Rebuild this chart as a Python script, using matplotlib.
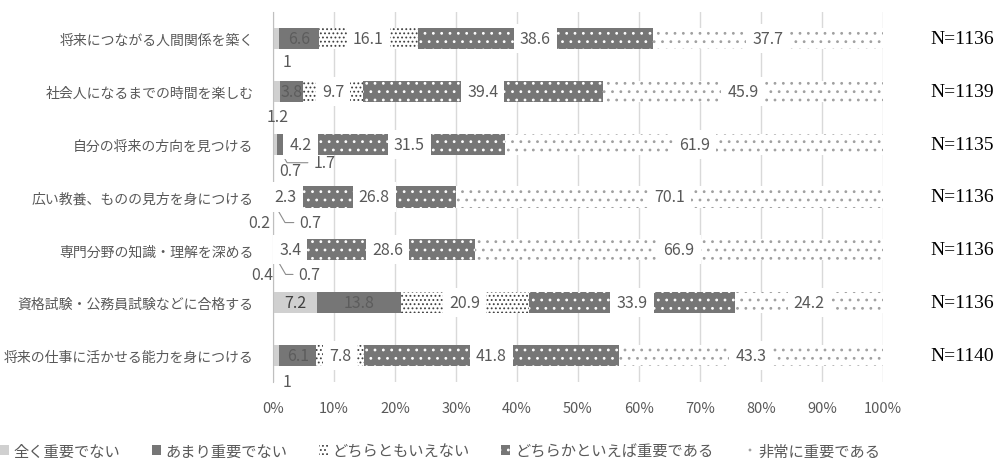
import matplotlib
matplotlib.use("Agg")
import matplotlib.pyplot as plt
from matplotlib.patches import Rectangle
from matplotlib.transforms import blended_transform_factory
from matplotlib.ticker import PercentFormatter
import numpy as np

plt.rcParams["font.family"] = ["Noto Sans CJK JP", "DejaVu Sans"]
plt.rcParams["hatch.linewidth"] = 0.8

# --- data ---
categories = [
    "将来につながる人間関係を築く",
    "社会人になるまでの時間を楽しむ",
    "自分の将来の方向を見つける",
    "広い教養、ものの見方を身につける",
    "専門分野の知識・理解を深める",
    "資格試験・公務員試験などに合格する",
    "将来の仕事に活かせる能力を身につける",
]
series_names = [
    "全く重要でない",
    "あまり重要でない",
    "どちらともいえない",
    "どちらかといえば重要である",
    "非常に重要である",
]
not_at_all = [1, 1.2, 0.7, 0.2, 0.4, 7.2, 1]
not_very = [6.6, 3.8, 1.7, 0.7, 0.7, 13.8, 6.1]
neutral = [16.1, 9.7, 4.2, 2.3, 3.4, 20.9, 7.8]
somewhat = [38.6, 39.4, 31.5, 26.8, 28.6, 33.9, 41.8]
very = [37.7, 45.9, 61.9, 70.1, 66.9, 24.2, 43.3]
sample_sizes = [1136, 1139, 1135, 1136, 1136, 1136, 1140]

series = [not_at_all, not_very, neutral, somewhat, very]

# --- styles ---
styles = [
    dict(facecolor="#d0d0d0", edgecolor="#d0d0d0", hatch=None),
    dict(facecolor="#767676", edgecolor="#767676", hatch=None),
    dict(facecolor="white", edgecolor="#404040", hatch="...."),
    dict(facecolor="#767676", edgecolor="white", hatch=".."),
    dict(facecolor="white", edgecolor="#a0a0a0", hatch=".."),
]
inside_colors = ["#404040", "#5c5c5c", "#595959", "#595959", "#595959"]
label_bg = [False, False, True, True, True]

# labels drawn outside the bar: (row, series) -> (dx, dy) pixel offset, leader
outside = {
    (0, 0): (11, -23, False),
    (1, 0): (1, -25, False),
    (2, 0): (15, -26, False),
    (2, 1): (42, -8, True),
    (3, 0): (-14, -26, False),
    (3, 1): (34, -15, True),
    (4, 0): (-12, -25, False),
    (4, 1): (32, -14, True),
    (6, 0): (11, -26, False),
}

label_gray = "#595959"
bar_height = 0.4

fig = plt.figure(figsize=(10.04, 4.6), dpi=100)
ax = fig.add_axes([273 / 1004, 1 - 383 / 460, 610 / 1004, 370 / 460])

y = np.arange(len(categories))
left = np.zeros(len(categories))
for j, vals in enumerate(series):
    vals = np.array(vals, dtype=float)
    ax.barh(y, vals, left=left, height=bar_height, linewidth=0,
            zorder=2, **styles[j])
    for i, v in enumerate(vals):
        text = f"{v:g}"
        center = left[i] + v / 2
        if (i, j) in outside:
            dx, dy, leader = outside[(i, j)]
            if leader:
                ax.annotate(text, xy=(center, i + bar_height / 2),
                            xytext=(dx, dy), textcoords="offset pixels",
                            ha="center", va="center", fontsize=11.5,
                            color=label_gray, zorder=4,
                            arrowprops=dict(arrowstyle="-", color="#8c8c8c",
                                            lw=0.8, shrinkA=2, shrinkB=2,
                                            connectionstyle="angle,angleA=0,angleB=-60,rad=0"))
            else:
                ax.annotate(text, xy=(center, i), xytext=(dx, dy),
                            textcoords="offset pixels", ha="center",
                            va="center", fontsize=11.5, color=label_gray,
                            zorder=4, annotation_clip=False)
        else:
            bbox = None
            if label_bg[j]:
                bbox = dict(boxstyle="square,pad=0.38", fc="white", ec="none")
            ax.text(center, i, text, ha="center", va="center", fontsize=11.5,
                    color=inside_colors[j], bbox=bbox, zorder=4)
    left = left + vals

# N labels on the right
trans = blended_transform_factory(ax.transAxes, ax.transData)
for i, n in enumerate(sample_sizes):
    ax.text(1.077, i, f"N={n}", transform=trans, ha="left", va="center",
            fontsize=14, family="Liberation Serif", color="black")

ax.set_xlim(0, 100)
ax.set_ylim(len(categories) - 0.5, -0.5)
ax.set_yticks(y)
ax.set_yticklabels(categories, fontsize=10, color=label_gray)
ax.set_xticks(np.arange(0, 101, 10))
ax.xaxis.set_major_formatter(PercentFormatter(100, decimals=0))
ax.tick_params(axis="x", length=0, pad=14, labelsize=10.5, labelcolor=label_gray)
ax.tick_params(axis="y", length=0, pad=14)
ax.grid(axis="x", color="#d9d9d9", linewidth=1, zorder=0)
ax.set_axisbelow(True)
for side in ["top", "right", "bottom"]:
    ax.spines[side].set_visible(False)
ax.spines["left"].set_color("#bfbfbf")
ax.spines["left"].set_zorder(3)

# legend
handles = [Rectangle((0, 0), 1, 1, linewidth=0, **st) for st in styles]
fig.legend(handles, series_names, loc="center left",
           bbox_to_anchor=(0, 1 - 452 / 460), ncol=5, frameon=False,
           fontsize=11, labelcolor=label_gray, handlelength=0.6,
           handleheight=0.6, handletextpad=0.3, columnspacing=2.05,
           borderaxespad=0, borderpad=0)

fig.savefig("out.png", dpi=100)
